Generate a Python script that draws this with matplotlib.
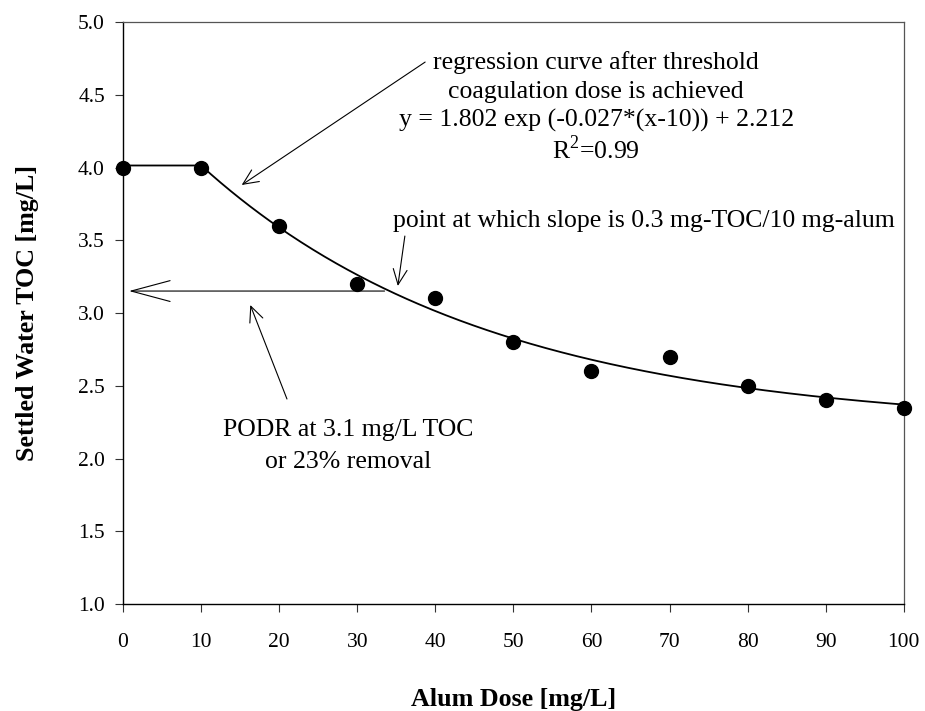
import numpy as np
import matplotlib.pyplot as plt

# measured settled water TOC vs. alum dose
dose = [0, 10, 20, 30, 40, 50, 60, 70, 80, 90, 100]
toc = [4.0, 4.0, 3.6, 3.2, 3.1, 2.8, 2.6, 2.7, 2.5, 2.4, 2.35]

# regression parameters printed on the chart
fit_a = 1.802
fit_k = 0.027
fit_c = 2.212
threshold = 10

x_ticks = [0, 10, 20, 30, 40, 50, 60, 70, 80, 90, 100]
y_ticks = [1.0, 1.5, 2.0, 2.5, 3.0, 3.5, 4.0, 4.5, 5.0]

reg_lines = ["regression curve after threshold",
             "coagulation dose is achieved",
             "y = 1.802 exp (-0.027*(x-10)) + 2.212",
             "R$^2$=0.99"]
podr_lines = ["PODR at 3.1 mg/L TOC", "or 23% removal"]

plt.rcParams['font.family'] = ['Liberation Serif', 'DejaVu Serif']
plt.rcParams['mathtext.fontset'] = 'custom'
plt.rcParams['mathtext.rm'] = 'Liberation Serif'

fig = plt.figure(figsize=(9.25, 7.11), dpi=100)
ax = fig.add_axes([0.133, 0.1505, 0.844, 0.8185])

# fitted curve: flat before threshold dose, exponential decay after
xc = np.linspace(0, 100, 400)
yc = fit_a * np.exp(-fit_k * (np.maximum(xc, threshold) - threshold)) + fit_c
ax.plot(xc, yc, color='black', lw=1.3, zorder=2)
ax.plot(dose, toc, 'o', color='black', ms=10, zorder=3, clip_on=False)

ax.set_xlim(0, 100)
ax.set_ylim(1.0, 5.0)
ax.set_xticks(x_ticks)
ax.set_yticks(y_ticks)
ax.set_yticklabels([f"{v:.1f}" for v in y_ticks])
ax.tick_params(axis='both', direction='out', length=6, width=0.8, labelsize=15.5, color='#333333')
ax.tick_params(axis='x', pad=15)
ax.tick_params(axis='y', pad=7)
for side in ['top', 'right']:
    ax.spines[side].set_color('#555555')
    ax.spines[side].set_linewidth(0.9)
for side in ['left', 'bottom']:
    ax.spines[side].set_color('black')
    ax.spines[side].set_linewidth(1.0)

ax.set_xlabel("Alum Dose [mg/L]", fontsize=18.7, fontweight='bold', labelpad=26)
ax.set_ylabel("Settled Water TOC [mg/L]", fontsize=18.7, fontweight='bold', labelpad=28)

small = dict(arrowstyle='->,head_length=0.55,head_width=0.25', color='black', lw=0.8,
             shrinkA=0, shrinkB=0, mutation_scale=20)
big = dict(arrowstyle='->,head_length=28,head_width=7.5', color='black', lw=0.8,
           shrinkA=0, shrinkB=0, mutation_scale=1)

for txt, yv in zip(reg_lines, [4.725, 4.519, 4.326, 4.120]):
    ax.text(60.6, yv, txt, ha='center', va='center', fontsize=18.5)
ax.annotate("", xy=(15.2, 3.88), xytext=(38.7, 4.725), arrowprops=small)

ax.text(66.7, 3.632, "point at which slope is 0.3 mg-TOC/10 mg-alum",
        ha='center', va='center', fontsize=18.5)
ax.annotate("", xy=(35.2, 3.186), xytext=(36.1, 3.529), arrowprops=small)

ax.annotate("", xy=(0.77, 3.151), xytext=(33.5, 3.151), arrowprops=big)

for txt, yv in zip(podr_lines, [2.196, 1.976]):
    ax.text(28.8, yv, txt, ha='center', va='center', fontsize=18.5)
ax.annotate("", xy=(16.3, 3.055), xytext=(21.0, 2.409), arrowprops=small)

fig.savefig("out.png", dpi=100)
